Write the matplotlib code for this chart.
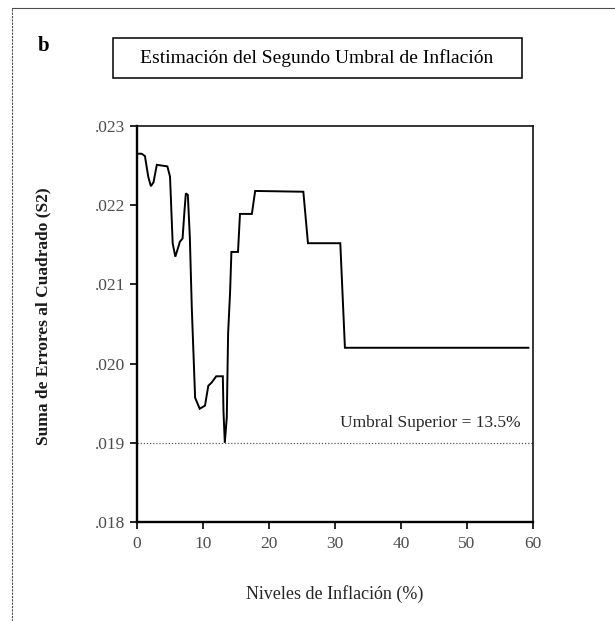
"""
plot.py -- segundo umbral de inflacion: suma de errores al cuadrado (S2)
vs nivel de inflacion, redibujado con matplotlib.
"""
import matplotlib
matplotlib.use("Agg")
import matplotlib.pyplot as plt
from matplotlib.lines import Line2D
from matplotlib.patches import Rectangle

# ---- data -----------------------------------------------------------------
inflacion = [0.0, 0.7, 1.2, 1.7, 2.1, 2.5, 3.0, 4.6, 5.0, 5.4, 5.8, 6.1,
             6.5, 6.9, 7.2, 7.4, 7.7, 8.0, 8.3, 8.8, 9.5, 10.3, 10.8, 11.3,
             12.0, 13.0, 13.1, 13.3, 13.6, 13.8, 14.1, 14.3, 15.3, 15.6,
             17.4, 17.9, 25.2, 25.9, 30.8, 31.5, 59.3]
s2 = [0.02265, 0.02265, 0.02262, 0.02236, 0.02224, 0.02229, 0.02251,
      0.02249, 0.02236, 0.02152, 0.02135, 0.02143, 0.02154, 0.02158,
      0.02194, 0.02215, 0.02213, 0.02160, 0.02070, 0.01957, 0.01943,
      0.01947, 0.01972, 0.01976, 0.01984, 0.01984, 0.01940, 0.01900,
      0.01932, 0.02038, 0.02090, 0.02141, 0.02141, 0.02189, 0.02189,
      0.02218, 0.02217, 0.02152, 0.02152, 0.02020, 0.02020]
umbral_s2 = 0.0190
umbral_txt = "Umbral Superior = 13.5%"
xticks = [0, 10, 20, 30, 40, 50, 60]
yticks = [0.018, 0.019, 0.020, 0.021, 0.022, 0.023]
ytick_labels = [".018", ".019", ".020", ".021", ".022", ".023"]

plt.rcParams["font.family"] = ["Liberation Serif", "DejaVu Serif"]

fig = plt.figure(figsize=(6.15, 6.21), dpi=100)
ax = fig.add_axes([0.2228, 0.1594, 0.6439, 0.6377])

ax.plot(inflacion, s2, color="black", lw=1.4, solid_joinstyle="miter")
ax.axhline(umbral_s2, color="0.35", lw=0.9, ls=(0, (1, 1.5)))
ax.text(30.8, 0.01925, umbral_txt, fontsize=12.5, va="center", ha="left",
        color="0.15")

ax.set_xlim(0, 60)
ax.set_ylim(0.018, 0.023)
ax.set_xticks(xticks)
ax.set_xticklabels([str(v) for v in xticks])
ax.set_yticks(yticks)
ax.set_yticklabels(ytick_labels)
ax.tick_params(direction="out", length=5, width=1.2, labelsize=12.5,
               colors="black", labelcolor="0.3")
ax.tick_params(axis="x", pad=5)
for sp in ax.spines.values():
    sp.set_linewidth(1.1)
ax.spines["left"].set_linewidth(1.7)
ax.spines["bottom"].set_linewidth(1.7)

ax.set_xlabel("Niveles de Inflación (%)", fontsize=13, color="0.15")
ax.xaxis.set_label_coords(0.5, -0.16)
ax.set_ylabel("Suma de Errores al Cuadrado (S2)", fontsize=12.5,
              fontweight="bold", color="0.1")
ax.yaxis.set_label_coords(-0.215, 0.52)

# ---- panel decorations: letter, boxed title, scan frame ------------------
fig.text(38 / 615, 1 - 46 / 621, "b", fontsize=15, fontweight="bold",
         va="center", ha="left")
fig.patches.append(Rectangle((113 / 615, 1 - 78 / 621), 409 / 615, 40 / 621,
                             transform=fig.transFigure, fill=False,
                             edgecolor="black", lw=1.1))
fig.text(317 / 615, 1 - 58 / 621, "Estimación del Segundo Umbral de Inflación",
         fontsize=14, va="center", ha="center")
fig.lines.append(Line2D([12 / 615, 12 / 615], [0, 1 - 8 / 621],
                        transform=fig.transFigure, color="0.3", lw=0.8,
                        ls=(0, (2, 1))))
fig.lines.append(Line2D([12 / 615, 1], [1 - 8 / 621, 1 - 8 / 621],
                        transform=fig.transFigure, color="0.3", lw=0.8))

fig.savefig("out.png", dpi=100)
